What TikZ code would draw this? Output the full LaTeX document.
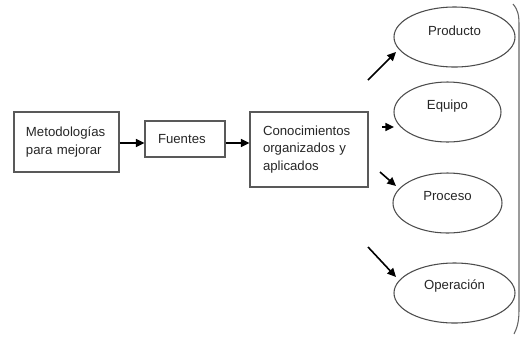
\documentclass[tikz,border=0pt]{standalone}
\usepackage{fontspec}
\setmainfont{Liberation Sans}
\usetikzlibrary{arrows.meta,shapes.geometric}
\begin{document}
\begin{tikzpicture}[x=0.75pt,y=-0.75pt,
  every node/.style={font=\fontsize{9.9}{13.2}\selectfont, text=black!85},
  boxnode/.style={draw=black!65, line width=0.8pt, rectangle, inner ysep=0pt, align=left},
  ellnode/.style={draw=black!70, line width=0.8pt, ellipse, inner sep=0pt, minimum height=45pt},
  arr/.style={line width=1.2pt, -{Triangle[length=6.5pt,width=6pt]}}
]
\useasboundingbox (0,0) rectangle (521,337);
% boxes
\node[boxnode, minimum width=78.75pt, minimum height=45pt, inner xsep=9pt, text width=60.75pt] (b1) at (66.5,142) {Metodologías\\para mejorar};
\node[boxnode, minimum width=60pt, minimum height=27pt, inner xsep=9.75pt, text width=40.5pt] (b2) at (185,139) {Fuentes};
\node[boxnode, minimum width=88.5pt, minimum height=56.25pt, inner xsep=9.75pt, text width=69pt] (b3) at (309,149.5) {Conocimientos\\organizados y\\aplicados};
% ellipses
\node[ellnode, minimum width=90.75pt, label={[yshift=5pt]center:Producto}] (e1) at (454.5,37) {};
\node[ellnode, minimum width=80.25pt, label={[yshift=4.5pt]center:Equipo}] (e2) at (447.5,112) {};
\node[ellnode, minimum width=81.75pt, label={[yshift=5.5pt]center:Proceso}] (e3) at (447.5,203) {};
\node[ellnode, minimum width=90.75pt, label={[yshift=5pt]center:Operación}] (e4) at (454.5,293) {};
% horizontal arrows
\coordinate (ay) at (0,143);
\draw[arr] (b1.east |- ay) -- (b2.west |- ay);
\draw[arr] (b2.east |- ay) -- (b3.west |- ay);
% diagonal arrows
\coordinate (s1) at (368,80);  \coordinate (t1) at (396,52);
\coordinate (s2) at (382,127); \coordinate (t2) at (394,127);
\coordinate (s3) at (380,172); \coordinate (t3) at (396,186);
\coordinate (s4) at (368,247); \coordinate (t4) at (396,277);
\draw[arr] (s1) -- (t1);
\draw[arr] (s2) -- (t2);
\draw[arr] (s3) -- (t3);
\draw[arr] (s4) -- (t4);
% right edge curve
\draw[black!60, line width=0.8pt] (513,4) .. controls (518,10) and (519,15) .. (519,25) -- (519,310) .. controls (519,322) and (517,328) .. (514,334);
\end{tikzpicture}
\end{document}
